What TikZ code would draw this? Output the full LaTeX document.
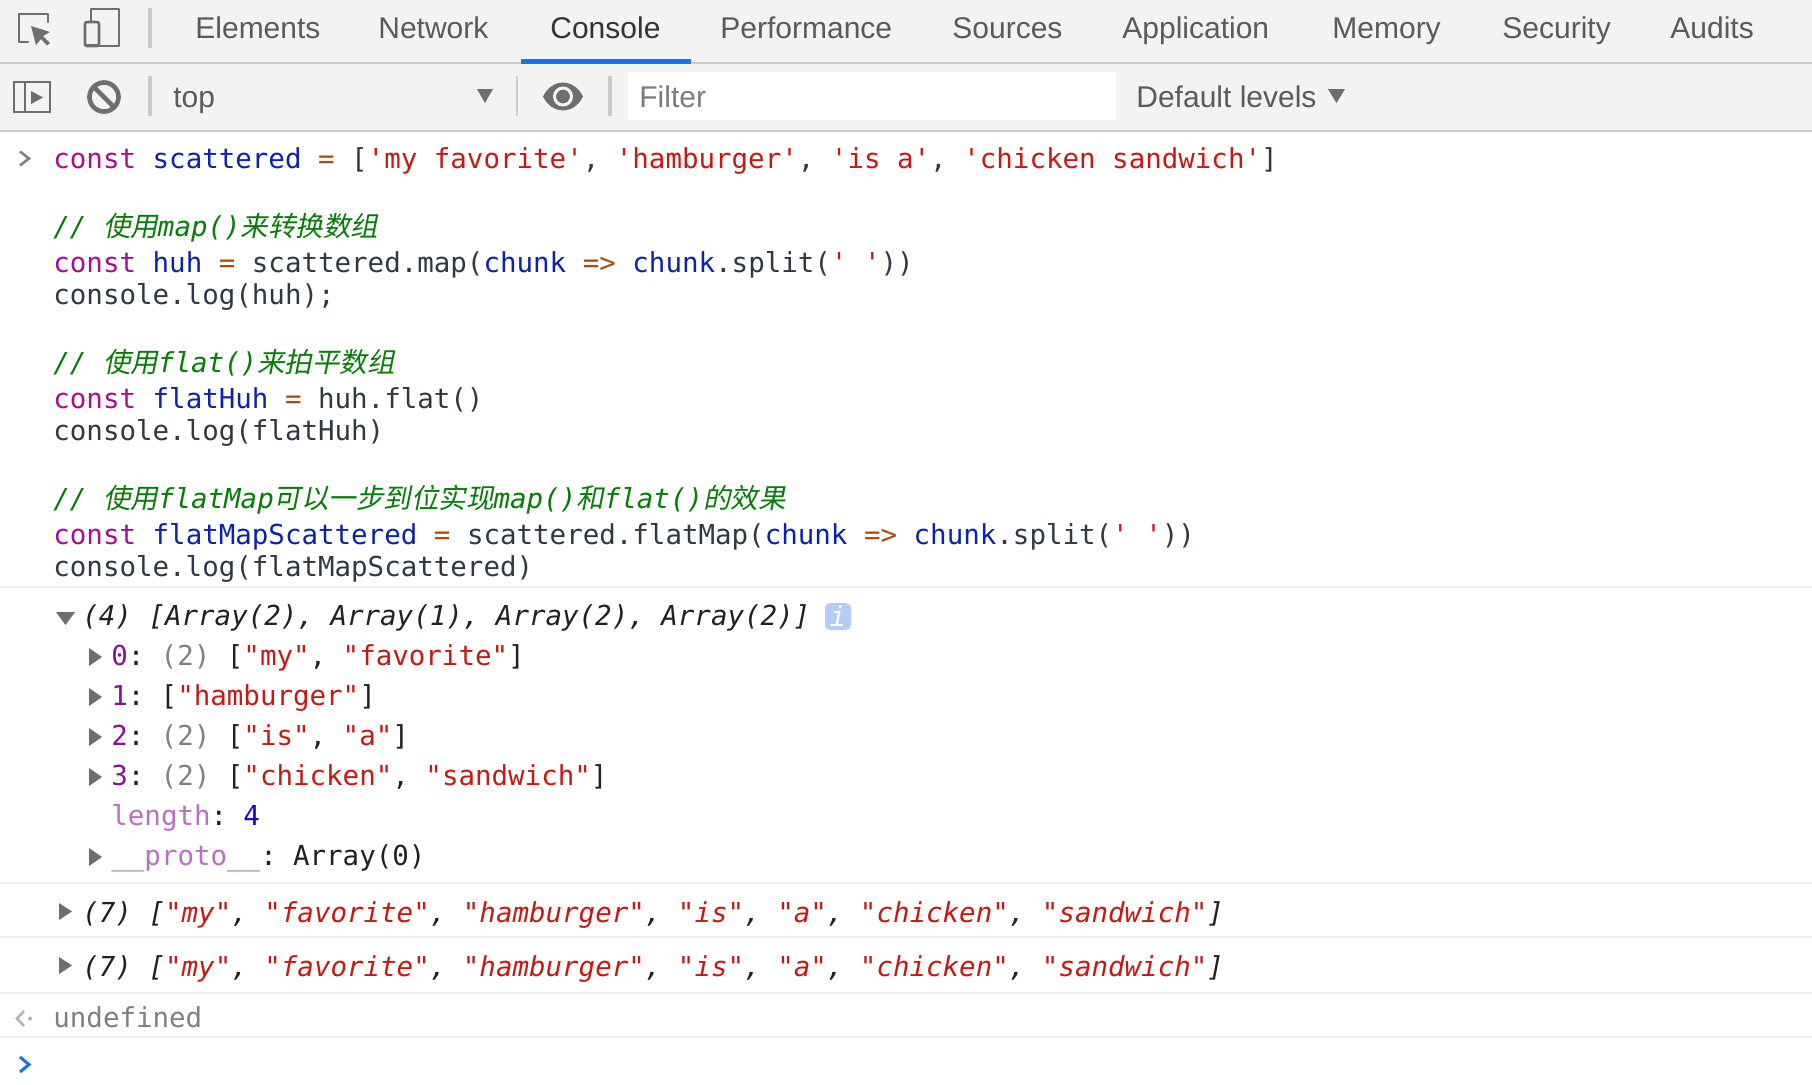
\documentclass[tikz,border=0pt]{standalone}
\usepackage{fontspec}
\setmainfont{Liberation Sans}
\newfontfamily\monofamily{DejaVu Sans Mono}
\newfontfamily\cjkfont[FakeSlant=0.2]{Noto Sans CJK SC}
\usetikzlibrary{positioning}
\definecolor{barcol}{HTML}{F3F3F3}
\definecolor{linecol}{HTML}{CCCCCC}
\definecolor{divcol}{HTML}{EEEEEE}
\definecolor{iconcol}{HTML}{6E6E6E}
\definecolor{tabcol}{HTML}{5A5A5A}
\definecolor{seltab}{HTML}{333333}
\definecolor{selline}{HTML}{1A73E8}
\definecolor{txtcol}{HTML}{303942}
\definecolor{outcol}{HTML}{212121}
\definecolor{kwcol}{HTML}{AA0D91}
\definecolor{varcol}{HTML}{0D22AA}
\definecolor{opcol}{HTML}{A84F0F}
\definecolor{strcol}{HTML}{C41A16}
\definecolor{cmtcol}{HTML}{067D06}
\definecolor{idxcol}{HTML}{881391}
\definecolor{grycol}{HTML}{808080}
\definecolor{lencol}{HTML}{BA6FC4}
\definecolor{numcol}{HTML}{1C00CF}
\definecolor{badgecol}{HTML}{B3CDF7}
\newcommand{\kwc}[1]{\textcolor{kwcol}{#1}}
\newcommand{\vrc}[1]{\textcolor{varcol}{#1}}
\newcommand{\opc}[1]{\textcolor{opcol}{#1}}
\newcommand{\stc}[1]{\textcolor{strcol}{#1}}
\newcommand{\idc}[1]{\textcolor{idxcol}{#1}}
\newcommand{\gyc}[1]{\textcolor{grycol}{#1}}
\newcommand{\zhc}[1]{{\upshape\cjkfont #1}}
\newcommand{\cln}{:\hspace{-2.9pt} }
\tikzset{
    mytab/.style = {anchor=base west, inner sep=0pt, font=\fontsize{15pt}{18pt}\selectfont, text=tabcol},
    mytabs/.style = {mytab, text=seltab},
    mycode/.style = {anchor=base west, inner sep=0pt, font=\monofamily\fontsize{13.74pt}{16pt}\selectfont, text=txtcol},
    mycmt/.style = {mycode, font=\monofamily\itshape\fontsize{13.74pt}{16pt}\selectfont, text=cmtcol},
    myout/.style = {mycode, text=outcol},
    myouti/.style = {mycode, font=\monofamily\itshape\fontsize{13.74pt}{16pt}\selectfont, text=outcol},
    mybar/.style = {draw=linecol, line width=1pt},
    mysep/.style = {draw=linecol, line width=2pt},
    mydiv/.style = {draw=divcol, line width=1pt},
    myicon/.style = {draw=iconcol, line width=1.3pt, line join=round, line cap=round},
    mytri/.style = {fill=iconcol}
}
\begin{document}
\begin{tikzpicture}[x=0.5pt,y=-0.5pt]
\path[use as bounding box] (0,0) rectangle (1812,1084);
%
\fill[white] (0,0) rectangle (1812,1084);
\fill[barcol] (0,0) rectangle (1812,130);
\draw[mybar] (0,62.5) -- (1812,62.5);
\draw[mybar] (0,130.5) -- (1812,130.5);
\fill[selline] (521,59) rectangle (691,63.5);
%
\node[mytab] at (195,38) (elements) {Elements};
\node[mytab] at (378,38) (network) {Network};
\node[mytabs] at (550,38) (console) {Console};
\node[mytab] at (720,38) (performance) {Performance};
\node[mytab] at (952,38) (sources) {Sources};
\node[mytab] at (1122,38) (application) {Application};
\node[mytab] at (1332,38) (memory) {Memory};
\node[mytab] at (1502,38) (security) {Security};
\node[mytab] at (1670,38) (audits) {Audits};
%
\draw[myicon] (48,22) -- (48,14) -- (19,14) -- (19,42) -- (28,42);
\fill[iconcol] (31,26) -- (50,32) -- (43,36) -- (50,43) -- (47,45.5) -- (41,39) -- (36,45) -- cycle;
\draw[myicon] (91,21) -- (91,9) -- (119,9) -- (119,46) -- (99,46);
\draw[myicon, rounded corners=1pt] (85,22) rectangle (99,46);
\draw[myicon] (85,45) -- (99,45);
\draw[mysep] (150,8) -- (150,48);
%
\draw[myicon, line cap=butt, line join=miter] (14,82) rectangle (50,112);
\draw[myicon, line cap=butt] (25,82) -- (25,112);
\fill[iconcol] (31,91) -- (43,97.5) -- (31,104) -- cycle;
\draw[iconcol, line width=2.3pt] (104,97) circle [radius=14.5];
\draw[iconcol, line width=2.3pt] (94,87) -- (114,107);
\draw[mysep] (150,76) -- (150,116);
\node[mytab] at (173,107) (top) {top};
\fill[mytri] (477,89) -- (493,89) -- (485,103) -- cycle;
\draw[linecol, line width=1pt] (517,76) -- (517,116);
\fill[iconcol] (543,96.5) .. controls (552,78) and (574,78) .. (583,96.5) .. controls (574,115) and (552,115) .. (543,96.5) -- cycle;
\draw[barcol, line width=1.5pt] (563,96.5) circle [radius=8.5];
\draw[mysep] (610,76) -- (610,116);
\fill[white] (628,72) rectangle (1116,120);
\node[mytab, text=iconcol!90] at (639,107) (filter) {Filter};
\node[mytab] at (1136,107) (levels) {Default levels};
\fill[mytri] (1328,89) -- (1345,89) -- (1336.5,103) -- cycle;
%
\draw[grycol, line width=1.3pt] (20,151.5) -- (29,158.5) -- (20,165.5);
%
\node[mycode] at (53,168) (line1) {\kwc{const} \vrc{scattered} \opc{=} [\stc{'my favorite'}, \stc{'hamburger'}, \stc{'is a'}, \stc{'chicken sandwich'}]};
\node[mycmt] at (53,236.5) (cmt1) {// \zhc{使用}map()\zhc{来转换数组}};
\node[mycode] at (53,272) (line2) {\kwc{const} \vrc{huh} \opc{=} scattered.map(\vrc{chunk} \opc{=>} \vrc{chunk}.split(\stc{' '}))};
\node[mycode] at (53,304) (line3) {console.log(huh);};
\node[mycmt] at (53,372.5) (cmt2) {// \zhc{使用}flat()\zhc{来拍平数组}};
\node[mycode] at (53,408) (line4) {\kwc{const} \vrc{flatHuh} \opc{=} huh.flat()};
\node[mycode] at (53,440) (line5) {console.log(flatHuh)};
\node[mycmt] at (53,508) (cmt3) {// \zhc{使用}flatMap\zhc{可以一步到位实现}map()\zhc{和}flat()\zhc{的效果}};
\node[mycode] at (53,544) (line6) {\kwc{const} \vrc{flatMapScattered} \opc{=} scattered.flatMap(\vrc{chunk} \opc{=>} \vrc{chunk}.split(\stc{' '}))};
\node[mycode] at (53,576) (line7) {console.log(flatMapScattered)};
%
\foreach \y in {587,883,936.5,992.5,1036.5}
    \draw[mydiv] (0,\y) -- (1812,\y);
%
\fill[mytri] (56,612) -- (75,612) -- (65.5,625) -- cycle;
\node[myouti] at (82,625) (arr) {(4) [Array(2), Array(1), Array(2), Array(2)]};
\node[fill=badgecol, rounded corners=2.5pt, inner sep=0pt, minimum width=13pt, minimum height=13.5pt, text=white, font=\monofamily\itshape\fontsize{13.74pt}{16pt}\selectfont] at (838,616.5) (info) {i};
%
\foreach \y in {657,697,737,777,857}
    \fill[mytri] (89,\y-9) -- (102,\y) -- (89,\y+9) -- cycle;
\node[myout] at (111,665) (item0) {\idc{0}\cln\gyc{(2)} [\stc{"my"}, \stc{"favorite"}]};
\node[myout] at (111,705) (item1) {\idc{1}\cln[\stc{"hamburger"}]};
\node[myout] at (111,745) (item2) {\idc{2}\cln\gyc{(2)} [\stc{"is"}, \stc{"a"}]};
\node[myout] at (111,785) (item3) {\idc{3}\cln\gyc{(2)} [\stc{"chicken"}, \stc{"sandwich"}]};
\node[myout] at (111,825) (length) {\textcolor{lencol}{length}\cln\textcolor{numcol}{4}};
\node[myout] at (111,865) (proto) {\textcolor{lencol}{\_\_proto\_\_}\cln Array(0)};
%
\fill[mytri] (59,903) -- (72,911.5) -- (59,920) -- cycle;
\node[myouti] at (82,922) (flat1) {(7) [\stc{"my"}, \stc{"favorite"}, \stc{"hamburger"}, \stc{"is"}, \stc{"a"}, \stc{"chicken"}, \stc{"sandwich"}]};
\fill[mytri] (59,957) -- (72,965.5) -- (59,974) -- cycle;
\node[myouti] at (82,976) (flat2) {(7) [\stc{"my"}, \stc{"favorite"}, \stc{"hamburger"}, \stc{"is"}, \stc{"a"}, \stc{"chicken"}, \stc{"sandwich"}]};
%
\draw[grycol!60, line width=1.3pt] (24,1011) -- (17,1018.5) -- (24,1026);
\fill[grycol!60] (30,1018.5) circle [radius=2];
\node[mycode, text=grycol] at (53,1027.5) (undef) {undefined};
\draw[selline, line width=1.5pt] (20,1057) -- (29,1064.5) -- (20,1072);
%
\end{tikzpicture}
\end{document}
